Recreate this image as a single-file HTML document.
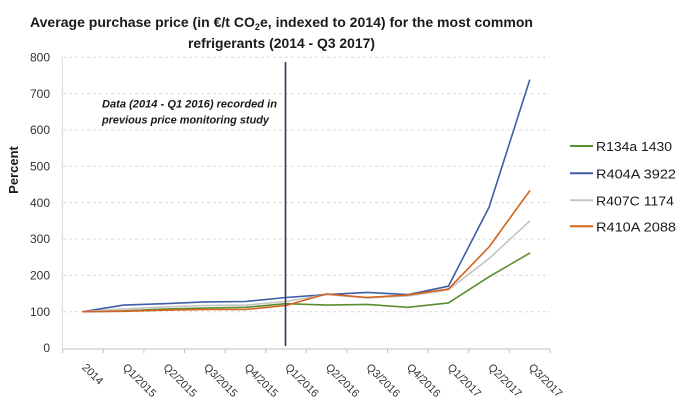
<!DOCTYPE html>
<html>
<head>
<meta charset="utf-8">
<style>
html,body{margin:0;padding:0;background:#fff;}
svg{display:block;}
text{font-family:"Liberation Sans",sans-serif;}
</style>
</head>
<body>
<svg width="690" height="414" viewBox="0 0 690 414" xmlns="http://www.w3.org/2000/svg">
<rect width="690" height="414" fill="#fff"/>
<!-- Title -->
<text x="30" y="27" font-size="14" font-weight="bold" fill="#1a1a1a" textLength="503" lengthAdjust="spacingAndGlyphs">Average purchase price (in €/t CO<tspan font-size="9" dy="3">2</tspan><tspan dy="-3">e, indexed to 2014) for the most common</tspan></text>
<text x="188" y="48" font-size="14" font-weight="bold" fill="#1a1a1a" textLength="187" lengthAdjust="spacingAndGlyphs">refrigerants (2014 - Q3 2017)</text>

<!-- gridlines -->
<g stroke="#D9D9D9" stroke-width="1" stroke-dasharray="3,3">
<line x1="63" y1="57.3" x2="550" y2="57.3"/>
<line x1="63" y1="93.6" x2="550" y2="93.6"/>
<line x1="63" y1="130" x2="550" y2="130"/>
<line x1="63" y1="166.3" x2="550" y2="166.3"/>
<line x1="63" y1="202.6" x2="550" y2="202.6"/>
<line x1="63" y1="239" x2="550" y2="239"/>
<line x1="63" y1="275.3" x2="550" y2="275.3"/>
<line x1="63" y1="311.7" x2="550" y2="311.7"/>
</g>
<!-- axes -->
<line x1="62.3" y1="57" x2="62.3" y2="349" stroke="#D9D9D9" stroke-width="1"/>
<line x1="62.5" y1="349" x2="550.5" y2="349" stroke="#BFBFBF" stroke-width="1"/>
<g stroke="#BFBFBF" stroke-width="1">
<line x1="62.7" y1="349" x2="62.7" y2="353"/>
<line x1="103.3" y1="349" x2="103.3" y2="353"/>
<line x1="143.9" y1="349" x2="143.9" y2="353"/>
<line x1="184.5" y1="349" x2="184.5" y2="353"/>
<line x1="225.1" y1="349" x2="225.1" y2="353"/>
<line x1="265.7" y1="349" x2="265.7" y2="353"/>
<line x1="306.3" y1="349" x2="306.3" y2="353"/>
<line x1="346.9" y1="349" x2="346.9" y2="353"/>
<line x1="387.5" y1="349" x2="387.5" y2="353"/>
<line x1="428.1" y1="349" x2="428.1" y2="353"/>
<line x1="468.7" y1="349" x2="468.7" y2="353"/>
<line x1="509.3" y1="349" x2="509.3" y2="353"/>
<line x1="550" y1="349" x2="550" y2="353"/>
</g>

<!-- y labels -->
<g font-size="12" fill="#333" text-anchor="end">
<text x="50" y="61.5">800</text>
<text x="50" y="97.8">700</text>
<text x="50" y="134.2">600</text>
<text x="50" y="170.5">500</text>
<text x="50" y="206.8">400</text>
<text x="50" y="243.2">300</text>
<text x="50" y="279.5">200</text>
<text x="50" y="315.9">100</text>
<text x="50" y="352.2">0</text>
</g>
<text transform="translate(18,170) rotate(-90)" font-size="13" font-weight="bold" fill="#1a1a1a" text-anchor="middle">Percent</text>

<!-- x labels -->
<g font-size="11" fill="#333">
<text x="81.5" y="368" transform="rotate(45 81.5 368)">2014</text>
<text x="122.1" y="368" transform="rotate(45 122.1 368)">Q1/2015</text>
<text x="162.7" y="368" transform="rotate(45 162.7 368)">Q2/2015</text>
<text x="203.3" y="368" transform="rotate(45 203.3 368)">Q3/2015</text>
<text x="243.9" y="368" transform="rotate(45 243.9 368)">Q4/2015</text>
<text x="284.5" y="368" transform="rotate(45 284.5 368)">Q1/2016</text>
<text x="325.1" y="368" transform="rotate(45 325.1 368)">Q2/2016</text>
<text x="365.7" y="368" transform="rotate(45 365.7 368)">Q3/2016</text>
<text x="406.3" y="368" transform="rotate(45 406.3 368)">Q4/2016</text>
<text x="446.9" y="368" transform="rotate(45 446.9 368)">Q1/2017</text>
<text x="487.5" y="368" transform="rotate(45 487.5 368)">Q2/2017</text>
<text x="528.1" y="368" transform="rotate(45 528.1 368)">Q3/2017</text>
</g>

<!-- annotation -->
<g font-size="11" font-weight="bold" font-style="italic" fill="#1a1a1a">
<text x="102" y="107.5" textLength="175" lengthAdjust="spacingAndGlyphs">Data (2014 - Q1 2016) recorded in</text>
<text x="102" y="123.5" textLength="167" lengthAdjust="spacingAndGlyphs">previous price monitoring study</text>
</g>

<!-- series -->
<g fill="none" stroke-width="1.6" stroke-linejoin="round" stroke-linecap="round">
<polyline stroke="#5B8C2F" points="83,311.7 123.6,310.9 164.2,309.1 204.8,308 245.4,307.3 286,303.7 326.6,305.1 367.2,304.4 407.8,307.3 448.4,302.9 489,276.8 529.6,253.2"/>
<polyline stroke="#3F5EA6" points="83,311.7 123.6,305.1 164.2,303.7 204.8,301.9 245.4,301.5 286,297.5 326.6,294.6 367.2,292.4 407.8,294.6 448.4,286.2 489,207.4 529.6,80.2"/>
<polyline stroke="#C4C4C4" points="83,311.7 123.6,309.1 164.2,306.9 204.8,305.5 245.4,305.1 286,301.5 326.6,294.6 367.2,297.9 407.8,296 448.4,289.9 489,258.6 529.6,221.2"/>
<polyline stroke="#D4621C" points="83,311.7 123.6,311.3 164.2,310.2 204.8,309.5 245.4,309.5 286,305.5 326.6,293.9 367.2,297.5 407.8,294.9 448.4,289.1 489,247 529.6,191"/>
</g>

<!-- vertical divider -->
<line x1="285.5" y1="62" x2="285.5" y2="346" stroke="#2F3B52" stroke-width="1.6"/>

<!-- legend -->
<g stroke-width="2">
<line x1="570" y1="146" x2="593" y2="146" stroke="#5B8C2F"/>
<line x1="570" y1="173.3" x2="593" y2="173.3" stroke="#3F5EA6"/>
<line x1="570" y1="200.3" x2="593" y2="200.3" stroke="#C4C4C4"/>
<line x1="570" y1="226.3" x2="593" y2="226.3" stroke="#D4621C"/>
</g>
<g font-size="13" fill="#1a1a1a">
<text x="596" y="151" textLength="76" lengthAdjust="spacingAndGlyphs">R134a 1430</text>
<text x="596" y="178.3" textLength="80" lengthAdjust="spacingAndGlyphs">R404A 3922</text>
<text x="596" y="205.3" textLength="78" lengthAdjust="spacingAndGlyphs">R407C 1174</text>
<text x="596" y="231.3" textLength="80" lengthAdjust="spacingAndGlyphs">R410A 2088</text>
</g>
</svg>
</body>
</html>
